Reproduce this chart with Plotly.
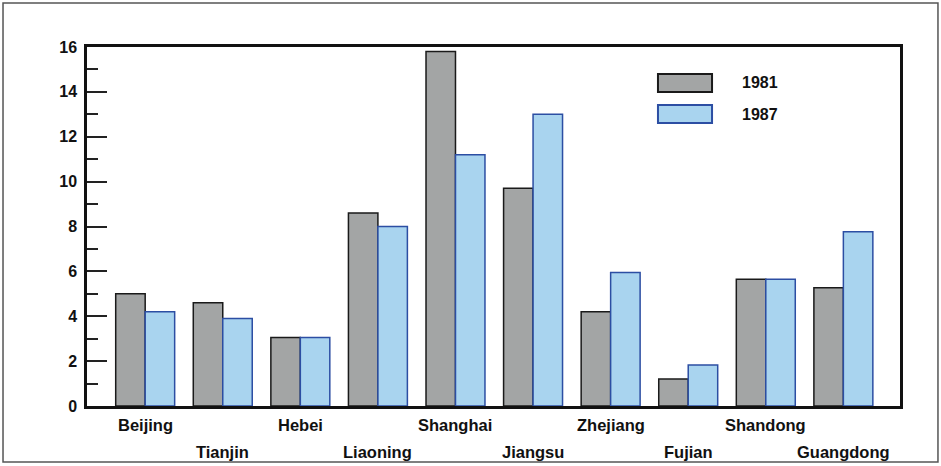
import plotly.graph_objects as go

provinces = ["Beijing", "Tianjin", "Hebei", "Liaoning", "Shanghai",
             "Jiangsu", "Zhejiang", "Fujian", "Shandong", "Guangdong"]
values_1981 = [5.0, 4.6, 3.05, 8.6, 15.8, 9.7, 4.2, 1.2, 5.65, 5.27]
values_1987 = [4.2, 3.9, 3.05, 8.0, 11.2, 13.0, 5.95, 1.83, 5.65, 7.77]
series_names = ["1981", "1987"]
y_ticks = [0, 2, 4, 6, 8, 10, 12, 14, 16]

FONT = "Liberation Sans, Arial, sans-serif"
gray_fill, gray_line = "#a3a5a5", "#1a1a1a"
blue_fill, blue_line = "#a9d4ef", "#2c4ea3"

fig = go.Figure()
fig.add_trace(go.Bar(x=list(range(len(provinces))), y=values_1981, name=series_names[0],
                     marker=dict(color=gray_fill, line=dict(color=gray_line, width=1.5))))
fig.add_trace(go.Bar(x=list(range(len(provinces))), y=values_1987, name=series_names[1],
                     marker=dict(color=blue_fill, line=dict(color=blue_line, width=1.5))))

# staggered category labels
annotations = []
for i, p in enumerate(provinces):
    annotations.append(dict(x=i, xref="x", y=-0.053 if i % 2 == 0 else -0.128, yref="paper",
                            text="<b>%s</b>" % p, showarrow=False, xanchor="center",
                            yanchor="middle", font=dict(family=FONT, size=16.5, color="#111")))

# manual legend
shapes = []
leg_x0, leg_x1 = 0.7023, 0.7688
leg_rows = [(0.9248, 0.8747, gray_fill, gray_line), (0.8384, 0.7883, blue_fill, blue_line)]
for name, (y0, y1, fc, lc) in zip(series_names, leg_rows):
    shapes.append(dict(type="rect", xref="paper", yref="paper", x0=leg_x0, x1=leg_x1,
                       y0=y1, y1=y0, fillcolor=fc, line=dict(color=lc, width=2)))
    annotations.append(dict(x=0.8032, y=(y0 + y1) / 2, xref="paper", yref="paper",
                            text="<b>%s</b>" % name, showarrow=False, xanchor="left",
                            yanchor="middle", font=dict(family=FONT, size=16, color="#111")))

# outer frame
shapes.append(dict(type="rect", xref="paper", yref="paper", x0=-0.1033, x1=1.0467,
                   y0=-0.156, y1=1.1226, line=dict(color="#555", width=1.5)))

fig.update_layout(
    width=941, height=466,
    margin=dict(l=87, r=41, t=47, b=60),
    paper_bgcolor="white", plot_bgcolor="white",
    showlegend=False,
    barmode="group", bargap=0.24, bargroupgap=0,
    annotations=annotations, shapes=shapes,
    font=dict(family=FONT, color="#111"),
)
fig.update_xaxes(range=[-0.75, 9.73], showticklabels=False, ticks="", showgrid=False,
                 zeroline=False, showline=True, linecolor="#111", linewidth=2.5, mirror=True)
fig.update_yaxes(range=[0, 16], tickvals=y_ticks, ticktext=["<b>%d</b>" % v for v in y_ticks],
                 ticks="inside", ticklen=20, tickwidth=2, tickcolor="#222",
                 minor=dict(ticks="inside", ticklen=11, tickwidth=2, tickcolor="#222", dtick=1, showgrid=False),
                 tickfont=dict(family=FONT, size=16, color="#111"), ticklabelstandoff=4,
                 showgrid=False, zeroline=False, showline=True, linecolor="#111", linewidth=2.5, mirror=True)

fig.write_html("out.html", config={"displayModeBar": False},
               post_script="document.body.style.margin='0px';")
